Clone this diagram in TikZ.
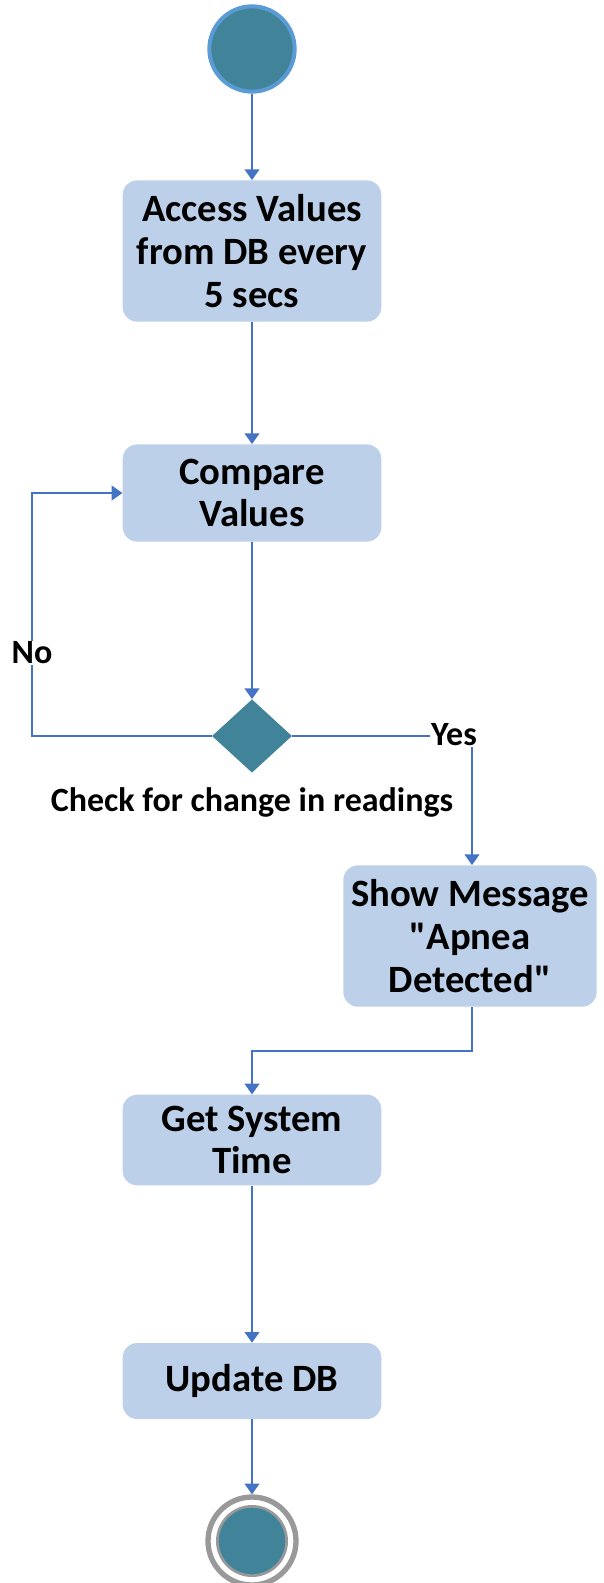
\documentclass[tikz,border=0pt]{standalone}
\usepackage{fontspec}
\setmainfont{Carlito}
\usetikzlibrary{shapes.geometric,arrows.meta}
\definecolor{boxfill}{HTML}{BDD0E9}
\definecolor{teal}{HTML}{41849A}
\definecolor{ring}{HTML}{5B9BD5}
\definecolor{flowline}{HTML}{4472C4}
\begin{document}
\begin{tikzpicture}[x=0.75pt,y=-0.75pt,
	activity/.style={rectangle,rounded corners=11pt,fill=boxfill,minimum width=194pt,align=center,font=\fontsize{29}{32}\selectfont\bfseries},
	flow/.style={draw=flowline,line width=1.2pt,-{Triangle[width=11pt,length=8pt]}},
	lbl/.style={fill=white,inner sep=1pt,font=\fontsize{25.5}{28}\selectfont\bfseries}]
	\useasboundingbox (0,0) rectangle (603,1583);
	% start and end
	\node[circle,fill=teal,draw=ring,line width=3pt,minimum size=64pt,inner sep=0] (start) at (252,49) {};
	\node[circle,draw=gray!80,line width=4pt,minimum size=66pt,inner sep=0] (end) at (252,1541) {};
	\filldraw[fill=teal,draw=gray!80,line width=2pt] (end.center) circle(26pt);
	% activities
	\node[activity,minimum height=106pt] (access) at (252,251) {Access Values\\from DB every\\5 secs};
	\node[activity,minimum height=73pt] (compare) at (252,493) {Compare\\Values};
	\node[diamond,fill=teal,minimum width=60pt,minimum height=55pt,inner sep=0] (check) at (252,736) {};
	\node[activity,minimum width=190pt,minimum height=106pt] (show) at (470,936) {Show Message\\\textquotedbl Apnea\\Detected\textquotedbl};
	\node[activity,minimum height=68pt] (systime) at (252,1140) {Get System\\Time};
	\node[activity,minimum height=57pt] (update) at (252,1381) {Update DB};
	\coordinate (loop) at (32,736);
	\coordinate (yes) at (472,736);
	\coordinate (turn) at (252,1051);
	% connectors
	\draw[flow] (start) -- (access);
	\draw[flow] (access) -- (compare);
	\draw[flow] (compare) -- (check);
	\draw[flow] (check.west) -- (loop) |- (compare.west);
	\draw[flow] (check.east) -- (yes) -- (yes |- show.north);
	\draw[flow] (show.south -| yes) |- (turn) -- (systime.north);
	\draw[flow] (systime) -- (update);
	\draw[flow] (update) -- (end);
	% labels
	\node[lbl] (no) at (32,653) {No};
	\node[lbl] (yeslbl) at (454,735) {Yes};
	\node[lbl] (question) at (252,802) {Check for change in readings};
\end{tikzpicture}
\end{document}
